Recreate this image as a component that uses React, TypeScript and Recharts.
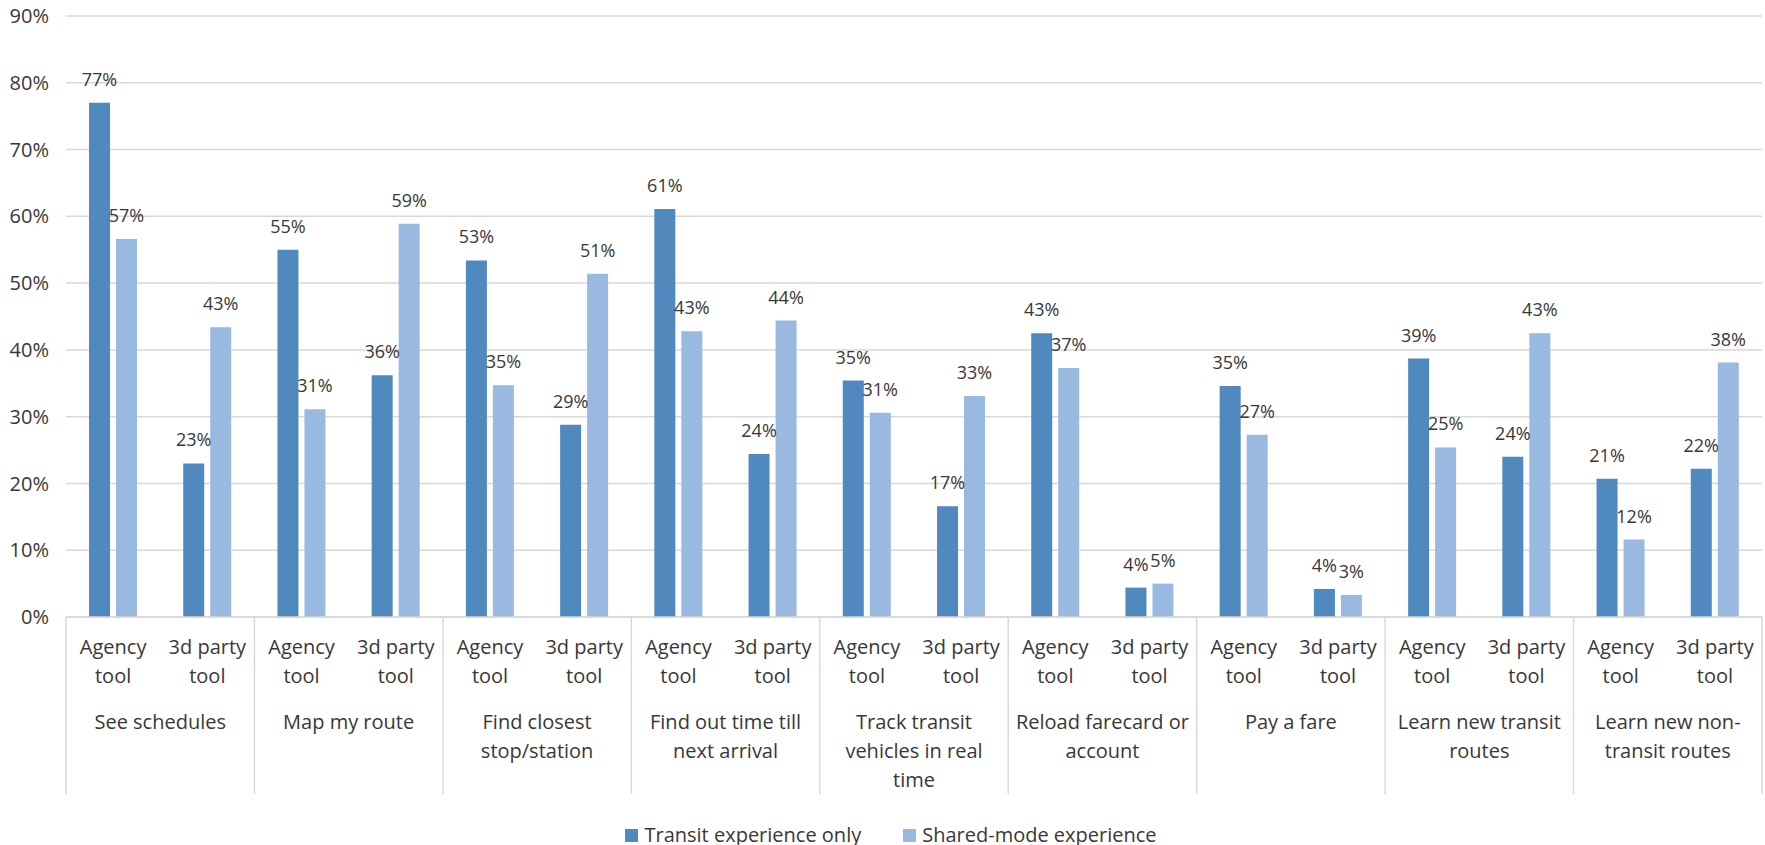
import React from 'react';
import { BarChart, Bar, XAxis, YAxis, CartesianGrid, Legend, LabelList } from 'recharts';

const taskGroups: string[][] = [
  ['See schedules'],
  ['Map my route'],
  ['Find closest', 'stop/station'],
  ['Find out time till', 'next arrival'],
  ['Track transit', 'vehicles in real', 'time'],
  ['Reload farecard or', 'account'],
  ['Pay a fare'],
  ['Learn new transit', 'routes'],
  ['Learn new non-', 'transit routes'],
];

const toolLabels: string[][] = [
  ['Agency', 'tool'],
  ['3d party', 'tool'],
];

// agency / 3d party pairs, one pair per task
const transitOnly = [77.0, 23.0, 55.0, 36.2, 53.4, 28.8, 61.1, 24.4, 35.4, 16.6, 42.5, 4.4, 34.6, 4.2, 38.7, 24.0, 20.7, 22.2];
const sharedMode = [56.6, 43.4, 31.1, 58.9, 34.7, 51.4, 42.8, 44.4, 30.6, 33.1, 37.3, 5.0, 27.3, 3.3, 25.4, 42.5, 11.6, 38.1];

const yTicks = [0, 10, 20, 30, 40, 50, 60, 70, 80, 90];

const seriesNames = ['Transit experience only', 'Shared-mode experience'];
const seriesColors = ['#4f89bd', '#99b9e1'];

const rows = transitOnly.map((v, i) => ({
  id: String(i),
  group: Math.floor(i / 2),
  tool: i % 2,
  transit: v,
  shared: sharedMode[i],
}));

const FONT = '"Open Sans", sans-serif';
const TEXT = '#383838';
const GRID = '#d9d9d9';

const ToolTick = (props: any) => {
  const { x, y, payload, index } = props;
  const half = payload && payload.offset ? payload.offset : 47;
  const row = rows[index];
  if (!row) return null;
  return (
    <g>
      {toolLabels[row.tool].map((line, k) => (
        <text key={k} x={x} y={y + 37 + k * 29} textAnchor="middle" fontFamily={FONT} fontSize={20} fill={TEXT}>
          {line}
        </text>
      ))}
      {row.tool === 0 && (
        <g>
          <line x1={x - half} x2={x - half} y1={y} y2={y + 177} stroke={GRID} strokeWidth={1.5} />
          {taskGroups[row.group].map((line, k) => (
            <text key={k} x={x + half} y={y + 112 + k * 29} textAnchor="middle" fontFamily={FONT} fontSize={20} fill={TEXT}>
              {line}
            </text>
          ))}
        </g>
      )}
      {index === rows.length - 1 && (
        <line x1={x + half} x2={x + half} y1={y} y2={y + 177} stroke={GRID} strokeWidth={1.5} />
      )}
    </g>
  );
};

const ValueLabel = (props: any) => {
  const { x, y, width, value } = props;
  return (
    <text x={x + width / 2} y={y - 17} textAnchor="middle" fontFamily={FONT} fontSize={18} fill={TEXT}>
      {`${Math.round(value)}%`}
    </text>
  );
};

const LegendBox = () => (
  <div style={{ display: 'flex', justifyContent: 'center', alignItems: 'center', height: 20, paddingLeft: 20 }}>
    {seriesNames.map((name, i) => (
      <div key={name} style={{ display: 'flex', alignItems: 'center', marginRight: i === 0 ? 42 : 0 }}>
        <span style={{ width: 13, height: 13, background: seriesColors[i], display: 'inline-block', marginRight: 6 }} />
        <span style={{ fontFamily: FONT, fontSize: 20, color: TEXT, lineHeight: '20px' }}>{name}</span>
      </div>
    ))}
  </div>
);

export default function App() {
  return (
    <div style={{ position: 'absolute', left: 0, top: 0, background: '#fff' }}>
      <BarChart
        width={1765}
        height={845}
        data={rows}
        margin={{ top: 16, right: 3, bottom: 0, left: 0 }}
        barSize={21}
        barGap={6}
      >
        <CartesianGrid horizontal vertical={false} stroke={GRID} strokeWidth={1.5} />
        <XAxis
          dataKey="id"
          interval={0}
          height={208}
          tickLine={false}
          tickSize={0}
          tickMargin={0}
          axisLine={{ stroke: GRID, strokeWidth: 1.5 }}
          tick={<ToolTick />}
        />
        <YAxis
          width={66}
          domain={[0, 90]}
          ticks={yTicks}
          interval={0}
          axisLine={false}
          tickLine={false}
          tickSize={0}
          tickMargin={17}
          tickFormatter={(v: number) => `${v}%`}
          tick={{ fontFamily: FONT, fontSize: 20, fill: TEXT }}
        />
        <Legend verticalAlign="bottom" content={<LegendBox />} />
        <Bar dataKey="transit" name={seriesNames[0]} fill={seriesColors[0]} isAnimationActive={false}>
          <LabelList dataKey="transit" content={<ValueLabel />} />
        </Bar>
        <Bar dataKey="shared" name={seriesNames[1]} fill={seriesColors[1]} isAnimationActive={false}>
          <LabelList dataKey="shared" content={<ValueLabel />} />
        </Bar>
      </BarChart>
    </div>
  );
}
